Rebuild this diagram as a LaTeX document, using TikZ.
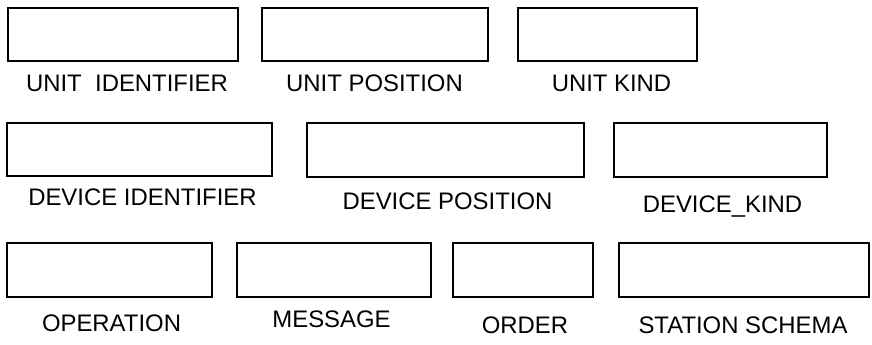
\documentclass[tikz,border=0pt]{standalone}
\usepackage{fontspec}
\setmainfont{Liberation Sans}
\begin{document}
\begin{tikzpicture}[x=1pt,y=-1pt,
  fieldbox/.style={draw=black, line width=1.3pt, fill=white, inner sep=0pt},
  fieldlabel/.style={anchor=base, inner sep=0pt, font=\fontsize{23.9}{27}\selectfont}]
\useasboundingbox (0,0) rectangle (872,345);
% row 1
\node[fieldbox, minimum width=230pt, minimum height=53pt] (b1) at (123,34.5) {};
\node[fieldbox, minimum width=226pt, minimum height=53pt] (b2) at (375,34.5) {};
\node[fieldbox, minimum width=179pt, minimum height=53pt] (b3) at (607.5,34.5) {};
\node[fieldlabel] (l1) at (127,91) {UNIT\ \ IDENTIFIER};
\node[fieldlabel] (l2) at (374.5,92) {UNIT POSITION};
\node[fieldlabel] (l3) at (611.5,91) {UNIT KIND};
% row 2
\node[fieldbox, minimum width=265pt, minimum height=53pt] (b4) at (139.5,149.5) {};
\node[fieldbox, minimum width=277pt, minimum height=54pt] (b5) at (445.5,150) {};
\node[fieldbox, minimum width=213pt, minimum height=54pt] (b6) at (720.5,150) {};
\node[fieldlabel] (l4) at (142.5,205) {DEVICE IDENTIFIER};
\node[fieldlabel] (l5) at (447.5,209) {DEVICE POSITION};
\node[fieldlabel] (l6) at (722.5,212) {DEVICE\_KIND};
% row 3
\node[fieldbox, minimum width=205pt, minimum height=54pt] (b7) at (109.5,270) {};
\node[fieldbox, minimum width=194pt, minimum height=54pt] (b8) at (334,270) {};
\node[fieldbox, minimum width=140pt, minimum height=54pt] (b9) at (523,270) {};
\node[fieldbox, minimum width=250pt, minimum height=54pt] (b10) at (744,270) {};
\node[fieldlabel] (l7) at (111.5,331) {OPERATION};
\node[fieldlabel] (l8) at (331.5,327) {MESSAGE};
\node[fieldlabel] (l9) at (525,333) {ORDER};
\node[fieldlabel] (l10) at (743,333) {STATION SCHEMA};
\end{tikzpicture}
\end{document}
